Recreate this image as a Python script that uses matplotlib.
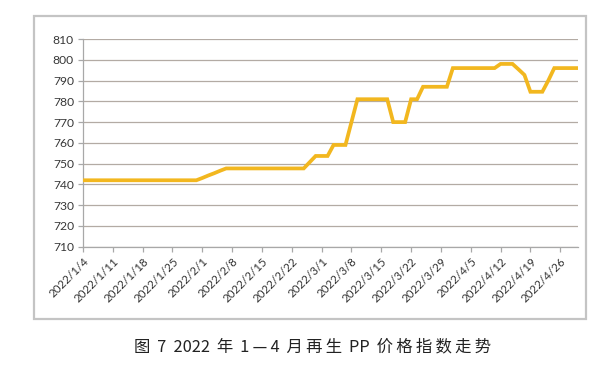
import matplotlib
matplotlib.use("Agg")
import matplotlib.pyplot as plt
from matplotlib.patches import Rectangle
from matplotlib.transforms import ScaledTranslation

# ---- data (weekday index series, Jan 4 - Apr 29, 2022) ----
values = (
    [742.0] * 20
    + [743.1, 744.3, 745.4, 746.6, 747.7]
    + [747.7] * 13
    + [750.7]
    + [753.7] * 3
    + [759.0] * 3
    + [770.0]
    + [781.0] * 6
    + [770.0] * 3
    + [781.0] * 2
    + [787.0] * 5
    + [796.0] * 8
    + [798.0] * 3
    + [795.4, 792.7]
    + [784.6] * 3
    + [790.0]
    + [796.0] * 5
)
tick_labels = ["2022/1/4", "2022/1/11", "2022/1/18", "2022/1/25", "2022/2/1",
               "2022/2/8", "2022/2/15", "2022/2/22", "2022/3/1", "2022/3/8",
               "2022/3/15", "2022/3/22", "2022/3/29", "2022/4/5", "2022/4/12",
               "2022/4/19", "2022/4/26"]
y_ticks = [710, 720, 730, 740, 750, 760, 770, 780, 790, 800, 810]
caption = "图 7  2022 年 1—4 月再生 PP 价格指数走势"

fig = plt.figure(figsize=(6.06, 3.75), dpi=100)
ax = fig.add_axes([0.137, 0.342, 0.817, 0.554])

x = list(range(len(values)))
ax.plot(x, values, color="#F2B71F", lw=2.7, solid_joinstyle="miter", zorder=3)

ax.set_xlim(0, len(values) - 1)
ax.set_ylim(710, 810)
ax.set_yticks(y_ticks)
ax.set_yticklabels([str(v) for v in y_ticks], fontsize=8.7, color="#383838",
                   family=["Lato", "DejaVu Sans"])
ax.set_xticks(list(range(0, 5 * len(tick_labels), 5)))
ax.set_xticklabels(tick_labels, rotation=45, ha="right", va="top",
                   rotation_mode="anchor", fontsize=8.3, color="#333333",
                   family=["Lato", "DejaVu Sans"])
off = ScaledTranslation(4.5 / 72, -4.0 / 72, fig.dpi_scale_trans)
for lab in ax.get_xticklabels():
    lab.set_transform(lab.get_transform() + off)
ax.grid(axis="y", color="#b3aba4", lw=0.9)
ax.set_axisbelow(True)
for s in ["top", "right"]:
    ax.spines[s].set_visible(False)
for s in ["left", "bottom"]:
    ax.spines[s].set_color("#a8a8a8")
    ax.spines[s].set_linewidth(0.9)
ax.tick_params(axis="both", color="#a8a8a8", length=3.5, width=0.9)
ax.tick_params(axis="x", pad=3)
ax.tick_params(axis="y", pad=3)

fig.patches.append(Rectangle((0.0553, 0.150), 0.912, 0.807, transform=fig.transFigure,
                             fill=False, edgecolor="#c4c4c4", lw=1.6))


def is_wide(ch):
    return ord(ch) > 0x2000


parts = [caption[0]]
for prev, ch in zip(caption, caption[1:]):
    if is_wide(prev) or is_wide(ch):
        parts.append("\u2009")
    parts.append(ch)
spaced_caption = "".join(parts)
fig.text(0.5165, 0.074, spaced_caption, ha="center", va="center", fontsize=11.8,
         color="#222222", family=["Noto Sans CJK SC", "DejaVu Sans"])

fig.savefig("out.png", dpi=100, facecolor="white")
